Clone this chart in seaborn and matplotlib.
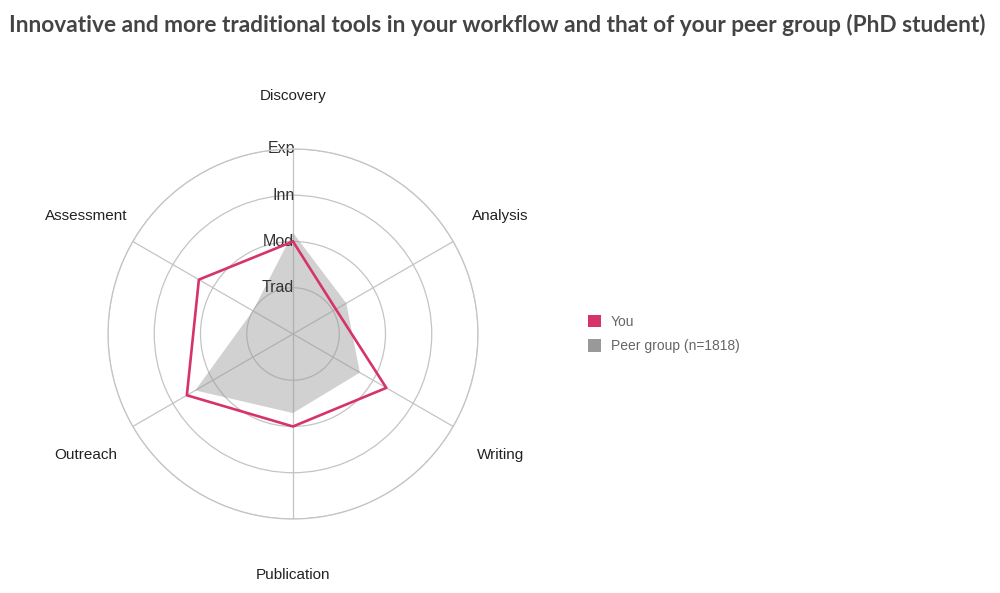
import numpy as np
import pandas as pd
import seaborn as sns
import matplotlib.pyplot as plt
from matplotlib.patches import Patch

# Data (0 = centre, 1 = Trad ... 4 = Exp)
categories = ["Discovery", "Analysis", "Writing", "Publication", "Outreach", "Assessment"]
you_values = [2.0, 1.07, 2.33, 2.0, 2.65, 2.35]
peer_values = [2.19, 1.33, 1.67, 1.71, 2.44, 1.0]
level_labels = ["Trad", "Mod", "Inn", "Exp"]
series_labels = ["You", "Peer group (n=1818)"]

pink = "#d63469"
peer_grey = "#999999"
grid_grey = "#c4c4c4"

sns.set_theme(style="white")
plt.rcParams["font.family"] = ["Liberation Sans", "DejaVu Sans"]

angles = np.linspace(0, 2 * np.pi, len(categories), endpoint=False)
df = pd.DataFrame({
    "theta": np.concatenate([angles, angles[:1]]),
    "you": you_values + you_values[:1],
    "peer": peer_values + peer_values[:1],
})

fig = plt.figure(figsize=(10, 5.93), dpi=100)
ax = fig.add_axes([0.108, 0.1248, 0.37, 0.624], projection="polar")
ax.set_theta_zero_location("N")
ax.set_theta_direction(-1)
ax.set_ylim(0, 4)

# grid: spokes and rings
ax.set_xticks(angles)
ax.set_xticklabels([])
ax.set_yticks([1, 2, 3, 4])
ax.set_yticklabels([])
ax.grid(True, color=grid_grey, linewidth=0.9)
ax.spines["polar"].set_color(grid_grey)
ax.spines["polar"].set_linewidth(0.9)

# peer group area, then "You" outline
ax.fill(df["theta"], df["peer"], color=peer_grey, alpha=0.45, linewidth=0, zorder=2)
sns.lineplot(data=df, x="theta", y="you", sort=False, estimator=None,
             color=pink, linewidth=1.9, ax=ax, zorder=3)
ax.set_xlabel("")
ax.set_ylabel("")

# ring labels along the top spoke
for i, lab in enumerate(level_labels):
    ax.text(0.012, i + 1, lab, ha="right", va="center", fontsize=11.5,
            color="#333333", zorder=2.5)

# category labels outside the outer ring
for ang, cat in zip(angles, categories):
    ax.text(ang, 5.17, cat, ha="center", va="center_baseline", fontsize=11,
            color="#222222", clip_on=False)

handles = [Patch(facecolor=pink, edgecolor="none"),
           Patch(facecolor=peer_grey, edgecolor="none")]
fig.legend(handles, series_labels, loc="upper left",
           bbox_to_anchor=(0.575, 0.490), frameon=False, fontsize=10,
           handlelength=1.0, handleheight=1.0, handletextpad=0.7,
           labelspacing=0.75, labelcolor="#666666")

fig.text(0.009, 0.958,
         "Innovative and more traditional tools in your workflow and that of your peer group (PhD student)",
         fontsize=16.3, fontweight="bold", family=["Lato", "DejaVu Sans"],
         color="#444444", ha="left", va="center")

fig.savefig("out.png", dpi=100)
